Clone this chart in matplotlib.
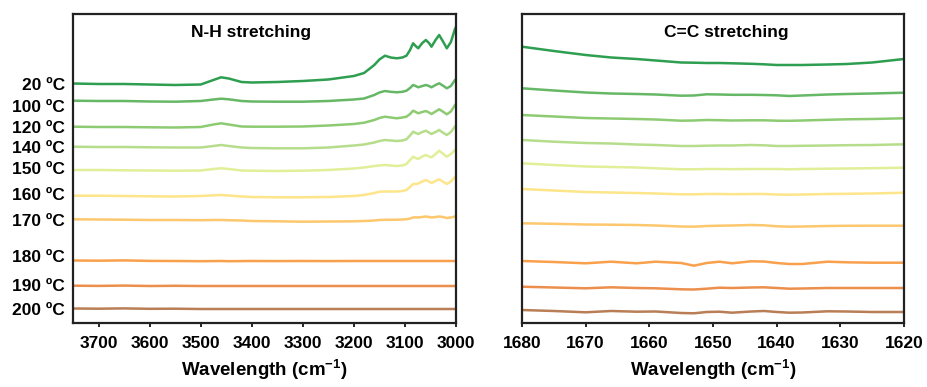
import matplotlib
matplotlib.use("Agg")
import matplotlib.pyplot as plt

plt.rcParams['font.family'] = ['Liberation Sans', 'DejaVu Sans']
plt.rcParams['font.weight'] = 'bold'
plt.rcParams['mathtext.fontset'] = 'custom'
plt.rcParams['mathtext.rm'] = 'Liberation Sans'
plt.rcParams['mathtext.bf'] = 'Liberation Sans:bold'

# ---------------- data ----------------
temps = ['20 ºC', '100 ºC', '120 ºC', '140 ºC', '150 ºC',
         '160 ºC', '170 ºC', '180 ºC', '190 ºC', '200 ºC']
label_pos = [239, 217, 196, 176, 155, 129, 103, 67, 38, 14]
colors = ['#2e9e50', '#66b866', '#8dcb72', '#b6dd8b', '#e0ef98',
          '#fde58a', '#fdc76e', '#f9a04c', '#ec8f4c', '#b97e55']

# N-H stretching region (wavenumber, cm-1)
nh_x = [3750, 3700, 3650, 3600, 3550, 3500, 3475, 3460, 3445, 3420, 3400, 3350,
        3300, 3250, 3200, 3180, 3160, 3150, 3139, 3128, 3116, 3105, 3097, 3090,
        3084, 3079, 3074, 3066, 3059, 3053, 3048, 3040, 3033, 3026, 3018, 3010,
        3002, 3000]
nh_20 = [239.5, 239, 239, 238.5, 238, 238.5, 243, 245.7, 244.5, 241, 240.5, 241,
         242, 243.5, 247, 250, 258, 263.5, 267.3, 265.5, 264.7, 265.5, 267.3, 273,
         279.7, 277, 274.7, 280, 283, 280, 276.3, 283, 288, 282, 274.7, 281, 294, 296]
nh_100 = [222.3, 222, 222, 221.5, 221.3, 222, 223.5, 224.3, 223.7, 222, 221.5, 221.3,
          221.3, 222, 223.5, 224.5, 228, 230.5, 232, 231.2, 230.7, 231.2, 232.3, 235,
          238, 237, 235.7, 237, 238, 237, 235.7, 238, 239.7, 237.5, 234.7, 237, 243, 244]
nh_120 = [196.3, 196, 196, 195.7, 195.5, 196, 198.5, 199.7, 198.5, 196.5, 196.3, 196.3,
          196.5, 197.5, 199, 200.3, 203, 205, 206.3, 205.5, 204.7, 205.5, 206.3, 209,
          212.3, 211, 209.7, 211, 212, 210.5, 209, 211.5, 213.7, 211.5, 208.7, 211.5, 218, 219]
nh_140 = [176.3, 176, 176, 175.7, 175.5, 175.5, 177, 178, 177, 175.5, 175, 174.7,
          174.7, 175.5, 177.5, 178.5, 180.5, 182, 183, 182.5, 182, 182.5, 183.7, 187.5,
          191.3, 190, 189, 191, 192.3, 190.5, 189, 191, 193, 190.5, 188, 191, 196.5, 197.5]
nh_150 = [153, 153, 152.7, 152.5, 152.3, 152.5, 154, 154.7, 154, 152.5, 152.3, 152,
          152.3, 153, 154.5, 155.5, 157, 157.5, 158, 157.5, 157, 157.5, 159, 163,
          166.3, 165, 164, 166.5, 168, 166.5, 165.7, 169, 172.3, 169.5, 166.3, 169, 173, 173.7]
nh_160 = [127.3, 127.3, 127, 126.7, 126.5, 127, 127.7, 128, 127.5, 126.5, 126, 125.7,
          125.7, 126, 127, 128, 130, 131.3, 131.5, 131.5, 131.5, 132, 133, 136,
          139, 139, 139.5, 141.5, 143, 141.5, 140, 142, 143.7, 141.5, 139, 141.5, 146, 146.5]
nh_170 = [103.7, 103.5, 103.3, 103, 103, 102.8, 103, 103, 102.8, 102.5, 102, 101.7,
          101.3, 101.5, 101.7, 102, 102.5, 103, 103.2, 103.2, 103.3, 103.5, 103.7, 104.5,
          105.5, 105.7, 105.5, 106, 106.5, 106, 105.5, 106, 106.5, 106, 105, 105.5, 106.5, 106.7]
nh_180 = [62.5, 62.3, 62.6, 62.1, 62, 61.8, 61.9, 62, 61.8, 61.9, 62, 61.9,
          62, 61.9, 62, 62, 62, 62, 62, 62, 62, 62, 62, 62,
          62, 62, 62, 62, 62, 62, 62, 62, 62, 62, 62, 62, 62, 62]
nh_190 = [37.3, 37.1, 37.4, 37.0, 37.2, 37, 37, 37, 37, 37, 37, 37,
          37, 37, 37, 37, 37, 37, 37, 37, 37, 37, 37, 37,
          37, 37, 37, 37, 37, 37, 37, 37, 37, 37, 37, 37, 37, 37]
nh_200 = [14.5, 14.3, 14.6, 14.2, 14.3, 14, 14, 14, 14, 14, 14, 14,
          14, 14, 14, 14, 14, 14, 14, 14, 14, 14, 14, 14,
          14, 14, 14, 14, 14, 14, 14, 14, 14, 14, 14, 14, 14, 14]

# C=C stretching region
cc_x = [1680, 1675, 1670, 1666, 1662, 1659, 1655, 1653, 1651, 1649, 1647, 1644,
        1642, 1640, 1638, 1636, 1632, 1629, 1625, 1620]
cc_20 = [276.3, 272, 268, 265.5, 264, 262.5, 260.5, 260.3, 260, 260, 259.7, 259.2,
         258.7, 258, 258, 258, 258.5, 259, 260.5, 264]
cc_100 = [234.7, 232.5, 230.5, 229.5, 229, 228.5, 227.3, 227.5, 228.7, 228.5, 228.2, 228.2,
          228, 227.7, 227, 227.5, 228.5, 229, 229.5, 230.3]
cc_120 = [208, 206.5, 205, 204.5, 204, 203.5, 202.3, 202.5, 203, 202.8, 202.5, 202.7,
          202.7, 202.3, 202.2, 202.5, 203.2, 203.7, 204, 204.7]
cc_140 = [183, 181.3, 180, 179.5, 178.5, 178, 177, 177, 177.3, 177.5, 177.5, 178,
          177.7, 177, 177, 177.2, 177.5, 177.8, 178, 178.7]
cc_150 = [159.7, 158, 156.5, 156, 155.5, 154.7, 153.7, 153.7, 154, 154, 153.8, 154,
          154, 154, 153.7, 154, 154.3, 154.5, 154.8, 155.3]
cc_160 = [134, 132.5, 131, 130.5, 130, 129.5, 128.7, 128.7, 129, 129, 128.8, 129,
          129, 128.5, 128.3, 128.5, 129, 129.2, 129.5, 130.3]
cc_170 = [99.7, 99.2, 98.5, 98.3, 98, 97.5, 96.5, 96.3, 97, 97.3, 97.5, 98,
          97.7, 96.7, 96.3, 96.5, 97, 97.2, 97.3, 97.3]
cc_180 = [62, 61, 59.7, 61.3, 59.7, 61.3, 60, 57.3, 60, 61.3, 59.7, 61.7,
          61.5, 60, 59, 59, 61.3, 60.7, 60.3, 60.3]
cc_190 = [36.3, 35.5, 34.7, 35.7, 35, 34.7, 33.7, 33.5, 34.3, 35.3, 35, 35.5,
          35.7, 35, 34.3, 34.5, 35, 35, 35, 35]
cc_200 = [13, 12, 10.7, 12, 11.3, 11.5, 10, 9.7, 11, 11.3, 10.3, 11.5,
          12, 11, 10.3, 10.5, 11.7, 11.5, 11, 11]

nh_series = [nh_20, nh_100, nh_120, nh_140, nh_150, nh_160, nh_170, nh_180, nh_190, nh_200]
cc_series = [cc_20, cc_100, cc_120, cc_140, cc_150, cc_160, cc_170, cc_180, cc_190, cc_200]

nh_ticks = [3700, 3600, 3500, 3400, 3300, 3200, 3100, 3000]
cc_ticks = [1680, 1670, 1660, 1650, 1640, 1630, 1620]

# ---------------- plot ----------------
fig = plt.figure(figsize=(9.27, 3.87), dpi=100)
ax1 = fig.add_axes([73/927, 64/387, 383/927, 309/387])
ax2 = fig.add_axes([522/927, 64/387, 382/927, 309/387])

for ys, c in zip(nh_series, colors):
    ax1.plot(nh_x, ys, color=c, lw=1.8, solid_joinstyle='round')
for ys, c in zip(cc_series, colors):
    ax2.plot(cc_x, ys, color=c, lw=1.8, solid_joinstyle='round')

ax1.set_xlim(3750, 3000)
ax2.set_xlim(1680, 1620)
for ax in (ax1, ax2):
    ax.set_ylim(0, 309)
    for s in ax.spines.values():
        s.set_linewidth(1.6)
        s.set_color('#222222')
    ax.tick_params(axis='x', length=3, width=1.2, pad=6, labelsize=12.5)
    ax.set_xlabel(r'Wavelength (cm$^{\mathbf{-1}}$)', fontsize=13.5, fontweight='bold', labelpad=5)

ax1.set_xticks(nh_ticks)
ax1.set_xticklabels([str(t) for t in nh_ticks])
ax2.set_xticks(cc_ticks)
ax2.set_xticklabels([str(t) for t in cc_ticks])

ax1.set_yticks(label_pos)
ax1.set_yticklabels(temps)
ax1.tick_params(axis='y', length=0, pad=6, labelsize=12.5)
ax2.set_yticks([])

ax1.text(0.466, 0.94, 'N-H stretching', transform=ax1.transAxes, ha='center', va='center',
         fontsize=12.5, fontweight='bold')
ax2.text(0.534, 0.94, 'C=C stretching', transform=ax2.transAxes, ha='center', va='center',
         fontsize=12.5, fontweight='bold')

fig.savefig('out.png', dpi=100)
